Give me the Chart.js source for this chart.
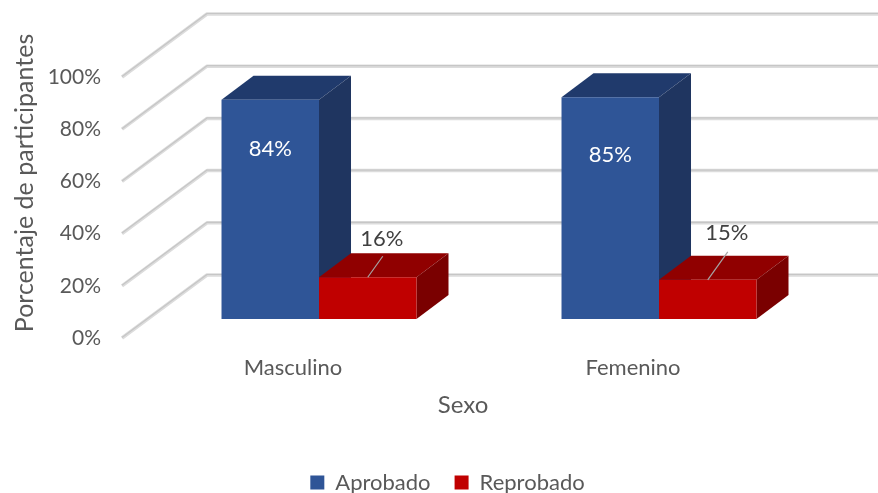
<!DOCTYPE html>
<html><head><meta charset="utf-8">
<style>html,body{margin:0;padding:0;background:#fff}canvas{display:block}</style>
<script src="https://cdn.jsdelivr.net/npm/chart.js@4"></script>
</head><body>
<canvas id="c" width="878" height="493"></canvas>
<script>
const categories = ["Masculino", "Femenino"];
const aprobado = [84, 85];
const reprobado = [16, 15];
const yTicksStep = 20;
const yTitle = "Porcentaje de participantes";
const xTitle = "Sexo";

const FONT = "Lato";
const barDepth = {dx: 32, dy: -24};
const wallDepth = {dx: 85, dy: -63};
const labelOffsets = [
  [{dx: 0, dy: 49, color: "#ffffff"}, {dx: 0, dy: 58, color: "#ffffff"}],
  [{dx: 14, dy: -38, color: "#404040", leader: [15, -21]}, {dx: 19, dy: -47, color: "#404040", leader: [20, -28]}]
];
const faces = [
  {top: "#203A6C", side: "#1F3560"},
  {top: "#900000", side: "#7A0000"}
];

function poly(ctx, pts, fill){
  ctx.beginPath();
  pts.forEach((p,i)=> i ? ctx.lineTo(p[0],p[1]) : ctx.moveTo(p[0],p[1]));
  ctx.closePath(); ctx.fillStyle = fill; ctx.fill();
}

const scene3d = {
  id: "scene3d",
  afterLayout(chart){
    const l = chart.legend; l.left += 46; l.right += 46; l.top += 10.5; l.bottom += 10.5;
  },
  beforeDatasetsDraw(chart){
    const ctx = chart.ctx, y = chart.scales.y;
    ctx.save();
    y.ticks.forEach(t=>{
      const py = y.getPixelForValue(t.value);
      const x0 = 122, x1 = x0 + wallDepth.dx, y1 = py + wallDepth.dy;
      ctx.beginPath(); ctx.moveTo(x0,py); ctx.lineTo(x1,y1); ctx.lineTo(chart.width,y1);
      ctx.lineJoin = "round"; ctx.lineWidth = 3.5; ctx.strokeStyle = "#dcdcdc"; ctx.stroke();
      ctx.beginPath(); ctx.moveTo(x0,py-.5); ctx.lineTo(x1,y1-.5); ctx.lineTo(chart.width,y1-.5);
      ctx.lineWidth = 1.2; ctx.strokeStyle = "#c6c6c6"; ctx.stroke();
    });
    chart.data.datasets.forEach((ds,d)=>{
      chart.getDatasetMeta(d).data.forEach(b=>{
        const L = b.x - b.width/2, R = b.x + b.width/2, T = b.y, B = b.base;
        const a = barDepth.dx, c = barDepth.dy;
        poly(ctx, [[L,T],[L+a,T+c],[R+a,T+c],[R,T]], faces[d].top);
        poly(ctx, [[R,T],[R+a,T+c],[R+a,B+c],[R,B]], faces[d].side);
      });
    });
    ctx.restore();
  },
  afterDatasetsDraw(chart){
    const ctx = chart.ctx;
    ctx.save();
    ctx.font = "22px " + FONT; ctx.textAlign = "center"; ctx.textBaseline = "middle";
    chart.data.datasets.forEach((ds,d)=>{
      chart.getDatasetMeta(d).data.forEach((b,i)=>{
        const o = labelOffsets[d][i];
        if(o.leader){
          ctx.beginPath(); ctx.moveTo(b.x,b.y); ctx.lineTo(b.x+o.leader[0], b.y+o.leader[1]);
          ctx.lineWidth = 1.2; ctx.strokeStyle = "#a6a6a6"; ctx.stroke();
        }
        ctx.fillStyle = o.color;
        ctx.fillText(ds.data[i].y + "%", b.x+o.dx, b.y+o.dy);
      });
    });
    ctx.restore();
  }
};

new Chart(document.getElementById("c"), {
  type: "bar",
  data: {
    labels: categories,
    datasets: [
      {label: "Aprobado", data: aprobado.map((v,i)=>({x:i,y:v})), backgroundColor: "#2F5597", xAxisID: "xBar", yAxisID: "yBar", borderWidth: 0, categoryPercentage: 0.5735, barPercentage: 1},
      {label: "Reprobado", data: reprobado.map((v,i)=>({x:i,y:v})), backgroundColor: "#C00000", xAxisID: "xBar", yAxisID: "yBar", borderWidth: 0, categoryPercentage: 0.5735, barPercentage: 1}
    ]
  },
  options: {
    responsive: false, animation: false,
    layout: {padding: {top: 28, right: 75, left: 0, bottom: 0}},
    plugins: {
      tooltip: {enabled: false},
      legend: {position: "bottom", labels: {boxWidth: 14, boxHeight: 14, padding: 24, color: "#595959", font: {family: FONT, size: 22}}}
    },
    scales: {
      x: {type: "category", offset: true, position: "bottom",
        grid: {display: false}, border: {display: false},
        ticks: {color: "#595959", font: {family: FONT, size: 22}, padding: 9},
        title: {display: true, text: xTitle, color: "#595959", font: {family: FONT, size: 24}, padding: {top: 14, bottom: 17}},
        afterFit(s){ s.height = 99; }
      },
      y: {type: "linear", position: "left", min: 0, max: 118.77,
        grid: {display: false}, border: {display: false},
        ticks: {stepSize: yTicksStep, includeBounds: false, color: "#595959", font: {family: FONT, size: 21}, padding: 14, callback: v => v + "%"},
        title: {display: true, text: yTitle, color: "#595959", font: {family: FONT, size: 25}, padding: {top: 10, bottom: 0}},
        afterFit(s){ s.width = 123; }
      },
      xBar: {type: "linear", display: false, offset: false, bounds: "data", min: -0.5765, max: 1.4235, ticks: {stepSize: 1, includeBounds: false}},
      yBar: {type: "linear", display: false, bounds: "data", min: -7.28, max: 111.49}
    }
  },
  plugins: [scene3d]
});
</script>
</body></html>
